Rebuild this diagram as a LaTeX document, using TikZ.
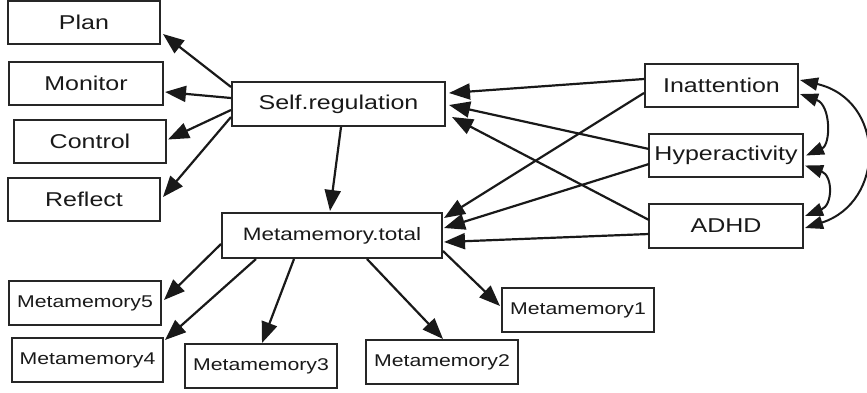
\documentclass[tikz,border=0pt]{standalone}
\usepackage{fontspec}
\setmainfont{Liberation Sans}[FakeStretch=1.25]
\usetikzlibrary{arrows.meta,calc}

\tikzset{
  box/.style={draw=black!85, line width=2pt, rectangle, inner sep=0pt,
              text=black!90, font=\fontsize{20}{22}\selectfont,
              minimum width=152pt, minimum height=43pt},
  smallbox/.style={box, font=\fontsize{17}{19}\selectfont, minimum height=44pt},
  arr/.style={draw=black!90, line width=2.2pt, -{Triangle[length=21pt,width=16pt]}},
  cov/.style={draw=black!90, line width=2pt,
              {Triangle[length=18pt,width=13pt]}-{Triangle[length=18pt,width=13pt]}}
}

\begin{document}
\begin{tikzpicture}[x=1pt,y=-1pt]
  \useasboundingbox (0,0) rectangle (867,392);

  % indicators of self regulation
  \node[box] (plan) at (84,22.5)  {Plan};
  \node[box, minimum width=154pt] (mon)  at (86,83.5)  {Monitor};
  \node[box] (ctrl) at (90,141.5) {Control};
  \node[box] (refl) at (84,199.5) {Reflect};

  % latent variables
  \node[box, minimum width=213pt, minimum height=44pt] (sr) at (338.5,104) {Self.regulation};
  \node[box, minimum width=220pt, minimum height=45pt,
        font=\fontsize{18}{20}\selectfont] (mt) at (332,235.5) {Metamemory.total};

  % predictors
  \node[box, minimum width=153pt] (ina)  at (721.5,85.5) {Inattention};
  \node[box, minimum width=154pt] (hyp)  at (726,155.5)  {Hyperactivity};
  \node[box, minimum width=154pt, minimum height=44pt] (adhd) at (726,226) {ADHD};

  % metamemory indicators
  \node[smallbox] (m5) at (85,303)   {Metamemory5};
  \node[smallbox, minimum width=151pt] (m4) at (87.5,360) {Metamemory4};
  \node[smallbox] (m3) at (261,366)  {Metamemory3};
  \node[smallbox] (m2) at (442,362)  {Metamemory2};
  \node[smallbox] (m1) at (578,310)  {Metamemory1};

  % loadings of self regulation
  \draw[arr] ($(sr.west)+(0,-17)$) -- ($(plan.east)+(2,11.5)$);
  \draw[arr] ($(sr.west)+(0,-6)$)  -- ($(mon.east)+(1,8.5)$);
  \draw[arr] ($(sr.west)+(0,6)$)   -- ($(ctrl.east)+(1,-2)$);
  \draw[arr] ($(sr.west)+(0,13)$)  -- ($(refl.east)+(2,-2.5)$);

  % structural path
  \draw[arr] ($(sr.south)+(2.5,0)$) -- ($(mt.north)+(-2,-1)$);

  % predictor paths
  \draw[arr] ($(ina.west)+(0,-6.5)$) -- ($(sr.east)+(3,-11)$);
  \draw[arr] ($(hyp.west)+(1,-6.5)$) -- ($(sr.east)+(3,1)$);
  \draw[arr] ($(adhd.west)+(1,-6)$)  -- ($(sr.east)+(6,13)$);
  \draw[arr] ($(ina.west)+(0,7.5)$)  -- ($(mt.east)+(1,-17.5)$);
  \draw[arr] ($(hyp.west)+(1,8.5)$)  -- ($(mt.east)+(1,-7.5)$);
  \draw[arr] ($(adhd.west)+(1,8)$)   -- ($(mt.east)+(1,6.5)$);

  % loadings of metamemory
  \draw[arr] ($(mt.west)+(0,8.5)$)        -- ($(m5.east)+(2,-3)$);
  \draw[arr] ($(mt.south west)+(35,0)$)   -- ($(m4.north east)+(1,3)$);
  \draw[arr] ($(mt.south west)+(73,0)$)   -- ($(m3.north)+(1,0)$);
  \draw[arr] ($(mt.south west)+(146,0)$)  -- ($(m2.north)+(1,0)$);
  \draw[arr] ($(mt.south east)+(0,-8)$)   -- ($(m1.west)+(-1,-4)$);

  % covariances among predictors
  \draw[cov] ($(ina.east)+(1,8.5)$) .. controls +(31,11) and +(25,-11) .. ($(hyp.east)+(2,0)$);
  \draw[cov] ($(hyp.east)+(1,10)$)  .. controls +(28,10) and +(28,-11) .. ($(adhd.east)+(1,-10)$);
  \draw[cov] ($(ina.east)+(1,-5.5)$) .. controls +(86,20) and +(81,-26) .. ($(adhd.east)+(1,2)$);
\end{tikzpicture}
\end{document}
